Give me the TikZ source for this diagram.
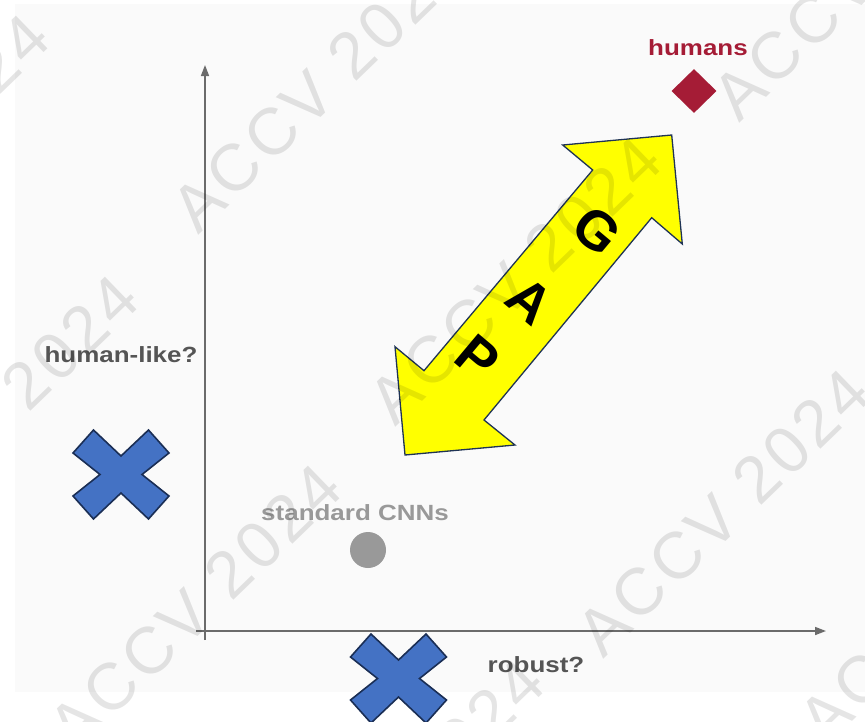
\documentclass[tikz,border=0pt]{standalone}
\usepackage{fontspec}
\setmainfont{Liberation Sans}
\newfontfamily\lblfont[FakeStretch=1.18]{Liberation Sans}
\newfontfamily\wmfont[LetterSpace=6]{Liberation Sans}
\usetikzlibrary{arrows.meta,shapes.geometric}
\definecolor{bgc}{HTML}{FAFAFA}
\definecolor{axisc}{HTML}{6B6B6B}
\definecolor{lblc}{HTML}{555555}
\definecolor{cnnc}{HTML}{999999}
\definecolor{humc}{HTML}{A51C36}
\definecolor{xfill}{HTML}{4472C4}
\definecolor{xline}{HTML}{1A2E55}
\definecolor{gapline}{HTML}{1F3355}
\definecolor{gapfill}{HTML}{FFFF00}
\tikzset{
  axisline/.style={draw=axisc, line width=1.6pt, -{Triangle[length=11pt,width=8pt]}},
  lbl/.style={font=\lblfont\bfseries\fontsize{22}{26}\selectfont, inner sep=0pt},
  gapl/.style={font=\bfseries\fontsize{55}{55}\selectfont, rotate=-40, inner sep=0pt},
  wm/.style={font=\wmfont\fontsize{66}{66}\selectfont, text=black, text opacity=0.10, rotate=44, inner sep=0pt},
  xshape/.style={fill=xfill, draw=xline, line width=1.6pt, line join=miter},
  bluex/.pic={\draw[xshape] (-27.5,-44.5)--(0,-18.5)--(27.5,-44.5)--(48,-21.5)--(21,0)--(48,21.5)--(27.5,44.5)--(0,18.5)--(-27.5,44.5)--(-48,21.5)--(-21,0)--(-48,-21.5)--cycle;}
}
\begin{document}
\begin{tikzpicture}[x=1pt,y=-1pt]
\useasboundingbox (0,0) rectangle (865,721);
\fill[bgc] (15,4) rectangle (865,692);
% axes
\coordinate (yb) at (205,640);
\coordinate (yt) at (205,65);
\coordinate (xl) at (196,631);
\coordinate (xr) at (826,631);
\draw[axisline] (yb) -- (yt);
\draw[axisline] (xl) -- (xr);
% labels and markers
\node[lbl, text=humc] (humlbl) at (698,48) {humans};
\node[diamond, fill=humc, minimum width=45pt, minimum height=44pt, inner sep=0pt] (hum) at (694,91) {};
\node[lbl, text=lblc] (hlike) at (121,355) {human-like?};
\node[lbl, text=cnnc] (cnnlbl) at (355,513) {standard CNNs};
\node[circle, fill=cnnc, minimum size=36pt, inner sep=0pt] (cnn) at (368,550) {};
\node[lbl, text=lblc] (rob) at (536,665) {robust?};
% blue crosses
\pic (xleft) at (121,474.5) {bluex};
\pic (xbottom) at (398.5,678.5) {bluex};
% GAP double arrow
\draw[draw=gapline, fill=gapfill, line width=1.3pt, line join=miter]
  (671.7,135) -- (682.3,244) -- (651.7,217.7) -- (484,420) -- (515,445) -- (405,455)
  -- (395,346.7) -- (424,370.7) -- (592.7,170) -- (562.7,145) -- cycle;
\node[gapl] (gG) at (597,231) {G};
\node[gapl] (gA) at (530,301) {A};
\node[gapl] (gP) at (478,358) {P};
% watermarks
\node[wm] (w1) at (318,88) {ACCV 2024};
\node[wm] (w2) at (515,280) {ACCV 2024};
\node[wm] (w3) at (195,607) {ACCV 2024};
\node[wm] (w4) at (723,512) {ACCV 2024};
\node[wm] (w5) at (859,-24) {ACCV 2024};
\node[wm] (w6) at (-8,418) {ACCV 2024};
\node[wm] (w7) at (398,802) {ACCV 2024};
\node[wm] (w8) at (945,600) {ACCV 2024};
\node[wm] (w9) at (-97,157) {ACCV 2024};
\end{tikzpicture}
\end{document}
